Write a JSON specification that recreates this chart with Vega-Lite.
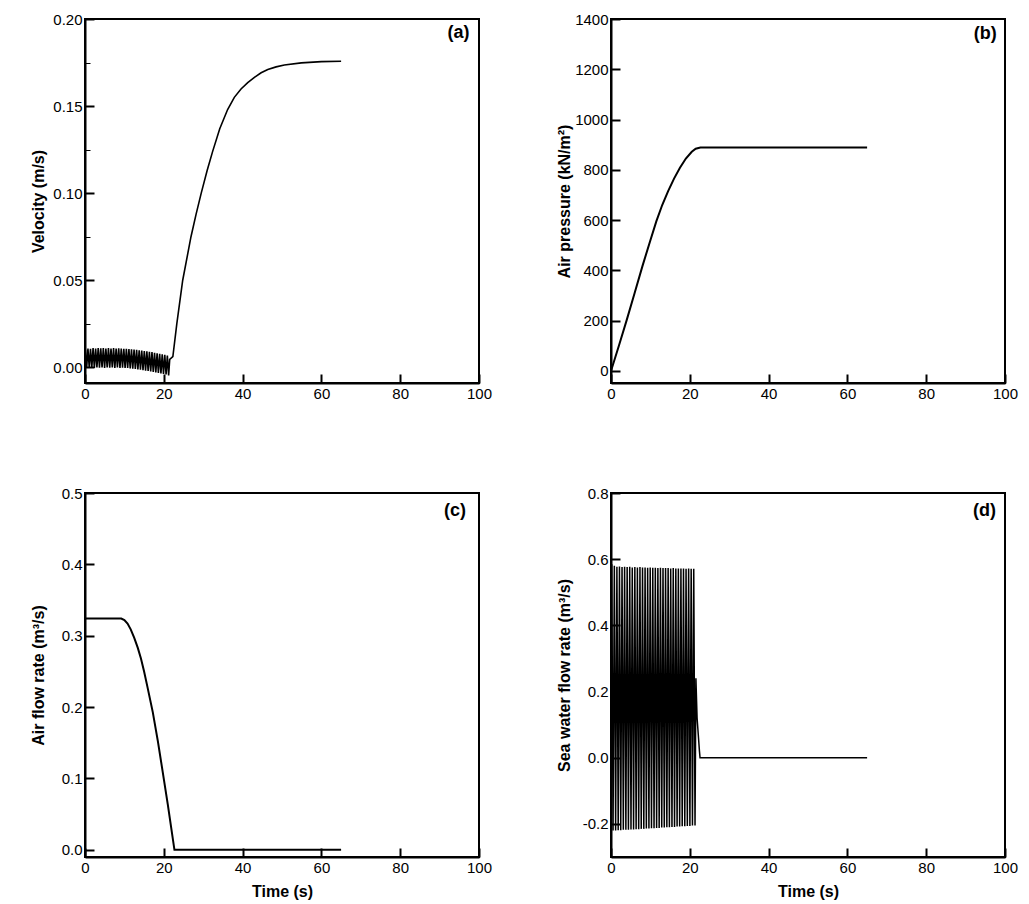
{
  "$schema": "https://vega.github.io/schema/vega-lite/v6.json",
  "background": "white",
  "padding": {"left": 29, "top": 11, "right": 5, "bottom": 5},
  "columns": 2,
  "bounds": "flush",
  "spacing": {"row": 110, "column": 132},
  "config": {
    "view": {"stroke": "black", "strokeWidth": 2},
    "axis": {
      "grid": false,
      "domainColor": "black",
      "domainWidth": 2,
      "tickColor": "black",
      "labelColor": "black",
      "titleColor": "black",
      "labelFont": "Liberation Sans",
      "labelFontSize": 15,
      "titleFont": "Liberation Sans",
      "titleFontSize": 16,
      "titleFontWeight": "bold",
      "labelPadding": 12,
      "labelFlush": false,
      "labelOverlap": false
    },
    "font": "Liberation Sans"
  },
  "datasets": {
    "va": [
      {"t": 0, "v": 0.005},
      {"t": 0.1, "v": 0.0100}, {"t": 0.425, "v": 0.0000},
      {"t": 0.75, "v": 0.0108}, {"t": 1.075, "v": -0.0002},
      {"t": 1.4, "v": 0.0106}, {"t": 1.725, "v": 0.0000},
      {"t": 2.05, "v": 0.0110}, {"t": 2.375, "v": -0.0003},
      {"t": 2.7, "v": 0.0108}, {"t": 3.025, "v": 0.0000},
      {"t": 3.35, "v": 0.0111}, {"t": 3.675, "v": -0.0002},
      {"t": 4.0, "v": 0.0109}, {"t": 4.325, "v": 0.0000},
      {"t": 4.65, "v": 0.0110}, {"t": 4.975, "v": -0.0003},
      {"t": 5.3, "v": 0.0108}, {"t": 5.625, "v": -0.0001},
      {"t": 5.95, "v": 0.0110}, {"t": 6.275, "v": -0.0002},
      {"t": 6.6, "v": 0.0108}, {"t": 6.925, "v": 0.0000},
      {"t": 7.25, "v": 0.0110}, {"t": 7.575, "v": -0.0003},
      {"t": 7.9, "v": 0.0108}, {"t": 8.225, "v": -0.0001},
      {"t": 8.55, "v": 0.0109}, {"t": 8.875, "v": -0.0003},
      {"t": 9.2, "v": 0.0108}, {"t": 9.525, "v": -0.0002},
      {"t": 9.85, "v": 0.0107}, {"t": 10.175, "v": -0.0004},
      {"t": 10.5, "v": 0.0106}, {"t": 10.825, "v": -0.0004},
      {"t": 11.15, "v": 0.0105}, {"t": 11.475, "v": -0.0006},
      {"t": 11.8, "v": 0.0104}, {"t": 12.125, "v": -0.0008},
      {"t": 12.45, "v": 0.0102}, {"t": 12.775, "v": -0.0009},
      {"t": 13.1, "v": 0.0100}, {"t": 13.425, "v": -0.0012},
      {"t": 13.75, "v": 0.0098}, {"t": 14.075, "v": -0.0014},
      {"t": 14.4, "v": 0.0096}, {"t": 14.725, "v": -0.0016},
      {"t": 15.05, "v": 0.0094}, {"t": 15.375, "v": -0.0019},
      {"t": 15.7, "v": 0.0092}, {"t": 16.025, "v": -0.0021},
      {"t": 16.35, "v": 0.0089}, {"t": 16.675, "v": -0.0024},
      {"t": 17.0, "v": 0.0087}, {"t": 17.325, "v": -0.0027},
      {"t": 17.65, "v": 0.0084}, {"t": 17.975, "v": -0.0029},
      {"t": 18.3, "v": 0.0081}, {"t": 18.625, "v": -0.0032},
      {"t": 18.95, "v": 0.0078}, {"t": 19.275, "v": -0.0035},
      {"t": 19.6, "v": 0.0075}, {"t": 19.925, "v": -0.0038},
      {"t": 20.25, "v": 0.0072}, {"t": 20.575, "v": -0.0041},
      {"t": 20.9, "v": 0.0068}, {"t": 21.225, "v": -0.0046},
      {"t": 21.5, "v": 0.0045},
      {"t": 22.3, "v": 0.0062},
      {"t": 23.3, "v": 0.025},
      {"t": 24.8, "v": 0.05},
      {"t": 26.9, "v": 0.075},
      {"t": 28.2, "v": 0.088},
      {"t": 29.5, "v": 0.1},
      {"t": 31.0, "v": 0.113},
      {"t": 32.4, "v": 0.124},
      {"t": 34.2, "v": 0.137},
      {"t": 36.2, "v": 0.148},
      {"t": 37.9, "v": 0.155},
      {"t": 39.6, "v": 0.1598},
      {"t": 41.3, "v": 0.1635},
      {"t": 43.0, "v": 0.1665},
      {"t": 44.7, "v": 0.1691},
      {"t": 46.4, "v": 0.1710},
      {"t": 48.5, "v": 0.1725},
      {"t": 50.6, "v": 0.1736},
      {"t": 54.9, "v": 0.1748},
      {"t": 60.0, "v": 0.1755},
      {"t": 65.0, "v": 0.1757}
    ],
    "pb": [
      {"t": 0, "p": 0},
      {"t": 2, "p": 100},
      {"t": 4, "p": 203},
      {"t": 6, "p": 310},
      {"t": 8, "p": 418},
      {"t": 10, "p": 520},
      {"t": 11.5, "p": 595},
      {"t": 13, "p": 660},
      {"t": 14.5, "p": 715},
      {"t": 16, "p": 765},
      {"t": 17.5, "p": 808},
      {"t": 19, "p": 845},
      {"t": 20.5, "p": 872},
      {"t": 21.5, "p": 884},
      {"t": 22.7, "p": 889},
      {"t": 65.0, "p": 889}
    ],
    "qc": [
      {"t": 0, "q": 0.324},
      {"t": 9.2, "q": 0.324},
      {"t": 10.0, "q": 0.322},
      {"t": 10.8, "q": 0.317},
      {"t": 11.6, "q": 0.309},
      {"t": 12.5, "q": 0.297},
      {"t": 13.4, "q": 0.283},
      {"t": 14.2, "q": 0.268},
      {"t": 15.0, "q": 0.250},
      {"t": 15.9, "q": 0.227},
      {"t": 17.2, "q": 0.193},
      {"t": 18.5, "q": 0.152},
      {"t": 19.7, "q": 0.110},
      {"t": 21.0, "q": 0.064},
      {"t": 22.7, "q": 0.0},
      {"t": 65.0, "q": 0.0}
    ],
    "wd": [
      {"t": 0, "w": -0.21},
      {"t": 0.2, "w": 0.585}, {"t": 0.525, "w": -0.22},
      {"t": 0.85, "w": 0.58}, {"t": 1.175, "w": -0.22},
      {"t": 1.5, "w": 0.577}, {"t": 1.825, "w": -0.219},
      {"t": 2.15, "w": 0.578}, {"t": 2.475, "w": -0.219},
      {"t": 2.8, "w": 0.576}, {"t": 3.125, "w": -0.218},
      {"t": 3.45, "w": 0.577}, {"t": 3.775, "w": -0.218},
      {"t": 4.1, "w": 0.576}, {"t": 4.425, "w": -0.218},
      {"t": 4.75, "w": 0.577}, {"t": 5.075, "w": -0.217},
      {"t": 5.4, "w": 0.575}, {"t": 5.725, "w": -0.217},
      {"t": 6.05, "w": 0.576}, {"t": 6.375, "w": -0.216},
      {"t": 6.7, "w": 0.575}, {"t": 7.025, "w": -0.216},
      {"t": 7.35, "w": 0.576}, {"t": 7.675, "w": -0.215},
      {"t": 8.0, "w": 0.575}, {"t": 8.325, "w": -0.215},
      {"t": 8.65, "w": 0.575}, {"t": 8.975, "w": -0.214},
      {"t": 9.3, "w": 0.574}, {"t": 9.625, "w": -0.214},
      {"t": 9.95, "w": 0.575}, {"t": 10.275, "w": -0.213},
      {"t": 10.6, "w": 0.574}, {"t": 10.925, "w": -0.213},
      {"t": 11.25, "w": 0.574}, {"t": 11.575, "w": -0.212},
      {"t": 11.9, "w": 0.573}, {"t": 12.225, "w": -0.212},
      {"t": 12.55, "w": 0.574}, {"t": 12.875, "w": -0.211},
      {"t": 13.2, "w": 0.573}, {"t": 13.525, "w": -0.211},
      {"t": 13.85, "w": 0.573}, {"t": 14.175, "w": -0.21},
      {"t": 14.5, "w": 0.573}, {"t": 14.825, "w": -0.21},
      {"t": 15.15, "w": 0.572}, {"t": 15.475, "w": -0.209},
      {"t": 15.8, "w": 0.573}, {"t": 16.125, "w": -0.209},
      {"t": 16.45, "w": 0.572}, {"t": 16.775, "w": -0.208},
      {"t": 17.1, "w": 0.572}, {"t": 17.425, "w": -0.208},
      {"t": 17.75, "w": 0.572}, {"t": 18.075, "w": -0.207},
      {"t": 18.4, "w": 0.572}, {"t": 18.725, "w": -0.207},
      {"t": 19.05, "w": 0.571}, {"t": 19.375, "w": -0.206},
      {"t": 19.7, "w": 0.572}, {"t": 20.025, "w": -0.206},
      {"t": 20.35, "w": 0.571}, {"t": 20.675, "w": -0.205},
      {"t": 21.0, "w": 0.571}, {"t": 21.325, "w": -0.205},
      {"t": 21.55, "w": 0.24},
      {"t": 21.85, "w": 0.12},
      {"t": 22.15, "w": 0.07},
      {"t": 22.45, "w": 0.02},
      {"t": 22.6, "w": 0.0},
      {"t": 65.0, "w": 0.0}
    ]
  },
  "concat": [
    {
      "width": 394, "height": 364,
      "layer": [
        {
          "data": {"name": "va"},
          "mark": {"type": "line", "color": "black", "strokeWidth": 1.6},
          "encoding": {
            "x": {"field": "t", "type": "quantitative",
              "scale": {"domain": [0, 100], "nice": false},
              "axis": {"title": null, "values": [0,10,20,30,40,50,60,70,80,90,100],
                "labelExpr": "datum.value % 20 === 0 ? format(datum.value, 'd') : ''",
                "tickSize": {"condition": {"test": "datum.value % 20 === 0", "value": -9}, "value": -5},
                "tickWidth": {"condition": {"test": "datum.value % 20 === 0", "value": 2}, "value": 1}}},
            "y": {"field": "v", "type": "quantitative",
              "scale": {"domain": [-0.009, 0.2], "nice": false, "zero": false},
              "axis": {"title": "Velocity (m/s)", "titleX": -47, "titleY": 182, "titleBaseline": "middle",
                "values": [0,0.025,0.05,0.075,0.1,0.125,0.15,0.175,0.2],
                "labelExpr": "abs(datum.value*20 - round(datum.value*20)) < 1e-6 ? format(datum.value, '.2f') : ''",
                "tickSize": {"condition": {"test": "abs(datum.value*20 - round(datum.value*20)) < 1e-6", "value": -9}, "value": -5},
                "tickWidth": {"condition": {"test": "abs(datum.value*20 - round(datum.value*20)) < 1e-6", "value": 2}, "value": 1}}}
          }
        },
        {
          "data": {"values": [{}]},
          "mark": {"type": "text", "align": "right", "baseline": "middle", "fontSize": 18, "fontWeight": "bold", "font": "Liberation Sans", "color": "black"},
          "encoding": {
            "x": {"datum": 97.6, "type": "quantitative"},
            "y": {"datum": 0.1917, "type": "quantitative"},
            "text": {"value": "(a)"}
          }
        }
      ]
    },
    {
      "width": 394, "height": 364,
      "layer": [
        {
          "data": {"name": "pb"},
          "mark": {"type": "line", "color": "black", "strokeWidth": 2},
          "encoding": {
            "x": {"field": "t", "type": "quantitative",
              "scale": {"domain": [0, 100], "nice": false},
              "axis": {"title": null, "values": [0,10,20,30,40,50,60,70,80,90,100],
                "labelExpr": "datum.value % 20 === 0 ? format(datum.value, 'd') : ''",
                "tickSize": {"condition": {"test": "datum.value % 20 === 0", "value": -9}, "value": -5},
                "tickWidth": {"condition": {"test": "datum.value % 20 === 0", "value": 2}, "value": 1}}},
            "y": {"field": "p", "type": "quantitative",
              "scale": {"domain": [-48, 1400], "nice": false, "zero": false},
              "axis": {"title": "Air pressure (kN/m²)", "titleX": -47, "titleY": 182, "titleBaseline": "middle",
                "values": [0,100,200,300,400,500,600,700,800,900,1000,1100,1200,1300,1400],
                "labelExpr": "datum.value % 200 === 0 ? format(datum.value, 'd') : ''",
                "tickSize": {"condition": {"test": "datum.value % 200 === 0", "value": -9}, "value": -5},
                "tickWidth": {"condition": {"test": "datum.value % 200 === 0", "value": 2}, "value": 1}}}
          }
        },
        {
          "data": {"values": [{}]},
          "mark": {"type": "text", "align": "right", "baseline": "middle", "fontSize": 18, "fontWeight": "bold", "font": "Liberation Sans", "color": "black"},
          "encoding": {
            "x": {"datum": 97.9, "type": "quantitative"},
            "y": {"datum": 1342, "type": "quantitative"},
            "text": {"value": "(b)"}
          }
        }
      ]
    },
    {
      "width": 394, "height": 364,
      "layer": [
        {
          "data": {"name": "qc"},
          "mark": {"type": "line", "color": "black", "strokeWidth": 2},
          "encoding": {
            "x": {"field": "t", "type": "quantitative",
              "scale": {"domain": [0, 100], "nice": false},
              "axis": {"title": "Time (s)", "titleX": 197, "titleY": 34, "titleBaseline": "middle",
                "values": [0,10,20,30,40,50,60,70,80,90,100],
                "labelExpr": "datum.value % 20 === 0 ? format(datum.value, 'd') : ''",
                "tickSize": {"condition": {"test": "datum.value % 20 === 0", "value": -9}, "value": -5},
                "tickWidth": {"condition": {"test": "datum.value % 20 === 0", "value": 2}, "value": 1}}},
            "y": {"field": "q", "type": "quantitative",
              "scale": {"domain": [-0.01, 0.5], "nice": false, "zero": false},
              "axis": {"title": "Air flow rate (m³/s)", "titleX": -47, "titleY": 182, "titleBaseline": "middle",
                "values": [0,0.05,0.1,0.15,0.2,0.25,0.3,0.35,0.4,0.45,0.5],
                "labelExpr": "abs(datum.value*10 - round(datum.value*10)) < 1e-6 ? format(datum.value, '.1f') : ''",
                "tickSize": {"condition": {"test": "abs(datum.value*10 - round(datum.value*10)) < 1e-6", "value": -9}, "value": -5},
                "tickWidth": {"condition": {"test": "abs(datum.value*10 - round(datum.value*10)) < 1e-6", "value": 2}, "value": 1}}}
          }
        },
        {
          "data": {"values": [{}]},
          "mark": {"type": "text", "align": "right", "baseline": "middle", "fontSize": 18, "fontWeight": "bold", "font": "Liberation Sans", "color": "black"},
          "encoding": {
            "x": {"datum": 96.7, "type": "quantitative"},
            "y": {"datum": 0.4748, "type": "quantitative"},
            "text": {"value": "(c)"}
          }
        }
      ]
    },
    {
      "width": 394, "height": 364,
      "layer": [
        {
          "data": {"name": "wd"},
          "mark": {"type": "line", "color": "black", "strokeWidth": 1.5},
          "encoding": {
            "x": {"field": "t", "type": "quantitative",
              "scale": {"domain": [0, 100], "nice": false},
              "axis": {"title": "Time (s)", "titleX": 197, "titleY": 34, "titleBaseline": "middle",
                "values": [0,10,20,30,40,50,60,70,80,90,100],
                "labelExpr": "datum.value % 20 === 0 ? format(datum.value, 'd') : ''",
                "tickSize": {"condition": {"test": "datum.value % 20 === 0", "value": -9}, "value": -5},
                "tickWidth": {"condition": {"test": "datum.value % 20 === 0", "value": 2}, "value": 1}}},
            "y": {"field": "w", "type": "quantitative",
              "scale": {"domain": [-0.3, 0.8], "nice": false, "zero": false},
              "axis": {"title": "Sea water flow rate (m³/s)", "titleX": -47, "titleY": 182, "titleBaseline": "middle",
                "values": [-0.2,-0.1,0,0.1,0.2,0.3,0.4,0.5,0.6,0.7,0.8],
                "labelExpr": "abs(datum.value*5 - round(datum.value*5)) < 1e-6 ? replace(format(datum.value, '.1f'), '−', '-') : ''",
                "tickSize": {"condition": {"test": "abs(datum.value*5 - round(datum.value*5)) < 1e-6", "value": -9}, "value": -5},
                "tickWidth": {"condition": {"test": "abs(datum.value*5 - round(datum.value*5)) < 1e-6", "value": 2}, "value": 1}}}
          }
        },
        {
          "data": {"values": [{}]},
          "mark": {"type": "text", "align": "right", "baseline": "middle", "fontSize": 18, "fontWeight": "bold", "font": "Liberation Sans", "color": "black"},
          "encoding": {
            "x": {"datum": 97.7, "type": "quantitative"},
            "y": {"datum": 0.746, "type": "quantitative"},
            "text": {"value": "(d)"}
          }
        }
      ]
    }
  ]
}
